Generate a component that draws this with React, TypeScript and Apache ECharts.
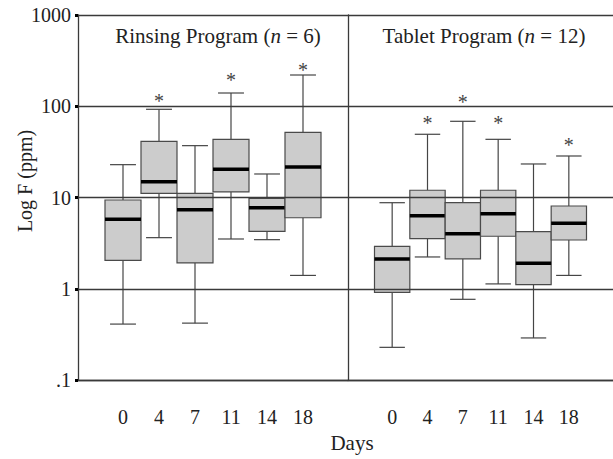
import React, { useEffect, useRef } from "react";
import * as echarts from "echarts";

const days = ["0", "4", "7", "11", "14", "18"];
const yTicks = [0.1, 1, 10, 100, 1000];

// Rinsing Program (n = 6)
const rinsingLow = [0.41, 3.63, 0.42, 3.51, 3.45, 1.4];
const rinsingQ1 = [2.05, 11.1, 1.92, 11.5, 4.26, 6.0];
const rinsingMedian = [5.77, 14.9, 7.35, 20.4, 7.73, 21.6];
const rinsingQ3 = [9.39, 41.3, 11.1, 43.4, 9.8, 51.8];
const rinsingHigh = [22.9, 92.6, 37.0, 139.7, 18.1, 220];
const rinsingStar = [null, 126, null, 215, null, 276];

// Tablet Program (n = 12)
const tabletLow = [0.228, 2.23, 0.766, 1.13, 0.289, 1.4];
const tabletQ1 = [0.914, 3.54, 2.13, 3.76, 1.11, 3.42];
const tabletMedian = [2.12, 6.32, 4.01, 6.65, 1.9, 5.21];
const tabletQ3 = [2.92, 12.0, 8.77, 12.0, 4.22, 8.07];
const tabletHigh = [8.77, 49.3, 68.4, 43.4, 23.3, 28.5];
const tabletStar = [null, 72.5, 123, 72.5, null, 41.6];

const FONT = '"Liberation Serif", "Times New Roman", serif';
const LINE = "#3a3a3a";

function buildRows(low: number[], q1: number[], med: number[], q3: number[], high: number[]) {
  return days.map((_, i) => [i, low[i], q1[i], med[i], q3[i], high[i]]);
}

function makeRenderItem(stars: (number | null)[]) {
  return (params: any, api: any) => {
    const i = api.value(0);
    const low = api.coord([i, api.value(1)]);
    const q1 = api.coord([i, api.value(2)]);
    const med = api.coord([i, api.value(3)]);
    const q3 = api.coord([i, api.value(4)]);
    const high = api.coord([i, api.value(5)]);
    const left = api.coord([i - 0.5, 1])[0];
    const right = api.coord([i + 0.5, 1])[0];
    const w = right - left;
    const cx = low[0];
    const capHalf = w * 0.36;
    const lineStyle = { stroke: "#454545", lineWidth: 1.2 };
    const children: any[] = [
      { type: "line", shape: { x1: cx, y1: high[1], x2: cx, y2: q3[1] }, style: lineStyle },
      { type: "line", shape: { x1: cx, y1: q1[1], x2: cx, y2: low[1] }, style: lineStyle },
      { type: "line", shape: { x1: cx - capHalf, y1: high[1], x2: cx + capHalf, y2: high[1] }, style: lineStyle },
      { type: "line", shape: { x1: cx - capHalf, y1: low[1], x2: cx + capHalf, y2: low[1] }, style: lineStyle },
      {
        type: "rect",
        shape: { x: left, y: q3[1], width: w, height: q1[1] - q3[1] },
        style: { fill: "#cccccc", stroke: "#4a4a4a", lineWidth: 1.2 },
      },
      { type: "line", shape: { x1: left, y1: med[1], x2: right, y2: med[1] }, style: { stroke: "#000", lineWidth: 3.5 } },
    ];
    const s = stars[params.dataIndex];
    if (s != null) {
      const p = api.coord([i, s]);
      children.push({
        type: "text",
        style: {
          text: "*",
          x: cx,
          y: p[1] + 4,
          align: "center",
          verticalAlign: "middle",
          fontSize: 20,
          fontFamily: FONT,
          fill: "#444",
        },
      });
    }
    return { type: "group", children };
  };
}

export default function App() {
  const ref = useRef<HTMLDivElement>(null);
  useEffect(() => {
    if (!ref.current) return;
    const chart = echarts.init(ref.current, undefined, { renderer: "svg" });
    const xAxisBase = (show: boolean) => ({
      type: "value" as const,
      min: -1.25,
      max: 6.25,
      splitLine: { show: false },
      axisTick: { show: false },
      axisLine: { show: true, onZero: false, lineStyle: { color: LINE, width: 1.3 } },
      axisLabel: {
        show,
        customValues: [0, 1, 2, 3, 4, 5],
        formatter: (v: number) => days[Math.round(v)] ?? "",
        margin: 27,
        fontSize: 20,
        fontFamily: FONT,
        color: "#222",
      },
    });
    const yAxisBase = (idx: number) => ({
      type: "log" as const,
      logBase: 10,
      min: yTicks[0],
      max: yTicks[yTicks.length - 1],
      gridIndex: idx,
      splitLine: { show: true, lineStyle: { color: LINE, width: 1.3 } },
      axisLine: { show: true, onZero: false, lineStyle: { color: LINE, width: 1.3 } },
      axisTick: idx === 0 ? { show: true, length: 3, lineStyle: { color: "#000", width: 3 } } : { show: false },
      axisLabel: {
        show: idx === 0,
        margin: 7,
        fontSize: 20,
        fontFamily: FONT,
        color: "#222",
        formatter: (v: number) => {
          const r = Math.round(v * 10) / 10;
          return r < 1 ? ".1" : String(Math.round(r));
        },
      },
    });
    chart.setOption({
      animation: false,
      grid: [
        { left: 78, top: 15, width: 270, height: 365 },
        { left: 348, top: 15, width: 270, height: 365 },
      ],
      xAxis: [
        { ...xAxisBase(true), gridIndex: 0 },
        { ...xAxisBase(true), gridIndex: 1 },
      ],
      yAxis: [yAxisBase(0), yAxisBase(1)],
      series: [
        {
          type: "custom",
          xAxisIndex: 0,
          yAxisIndex: 0,
          z: -1,
          clip: false,
          encode: { x: 0, y: [1, 2, 3, 4, 5] },
          data: buildRows(rinsingLow, rinsingQ1, rinsingMedian, rinsingQ3, rinsingHigh),
          renderItem: makeRenderItem(rinsingStar),
        },
        {
          type: "custom",
          xAxisIndex: 1,
          yAxisIndex: 1,
          z: -1,
          clip: false,
          encode: { x: 0, y: [1, 2, 3, 4, 5] },
          data: buildRows(tabletLow, tabletQ1, tabletMedian, tabletQ3, tabletHigh),
          renderItem: makeRenderItem(tabletStar),
        },
      ],
      graphic: [
        {
          type: "text",
          x: 218,
          y: 36,
          style: {
            text: "Rinsing Program ({i|n} = 6)",
            align: "center",
            verticalAlign: "middle",
            fontSize: 21,
            fontFamily: FONT,
            fill: "#222",
            rich: { i: { fontStyle: "italic", fontSize: 21, fontFamily: FONT, fill: "#222" } },
          },
        },
        {
          type: "text",
          x: 484,
          y: 36,
          style: {
            text: "Tablet Program ({i|n} = 12)",
            align: "center",
            verticalAlign: "middle",
            fontSize: 21,
            fontFamily: FONT,
            fill: "#222",
            rich: { i: { fontStyle: "italic", fontSize: 21, fontFamily: FONT, fill: "#222" } },
          },
        },
        {
          type: "text",
          x: 25,
          y: 181,
          rotation: Math.PI / 2,
          style: {
            text: "Log F (ppm)",
            align: "center",
            verticalAlign: "middle",
            fontSize: 20,
            fontFamily: FONT,
            fill: "#222",
          },
        },
        {
          type: "text",
          x: 352,
          y: 443,
          style: {
            text: "Days",
            align: "center",
            verticalAlign: "middle",
            fontSize: 21,
            fontFamily: FONT,
            fill: "#222",
          },
        },
      ],
    });
    return () => chart.dispose();
  }, []);
  return <div ref={ref} style={{ position: "absolute", left: 0, top: 0, width: 613, height: 459 }} />;
}
